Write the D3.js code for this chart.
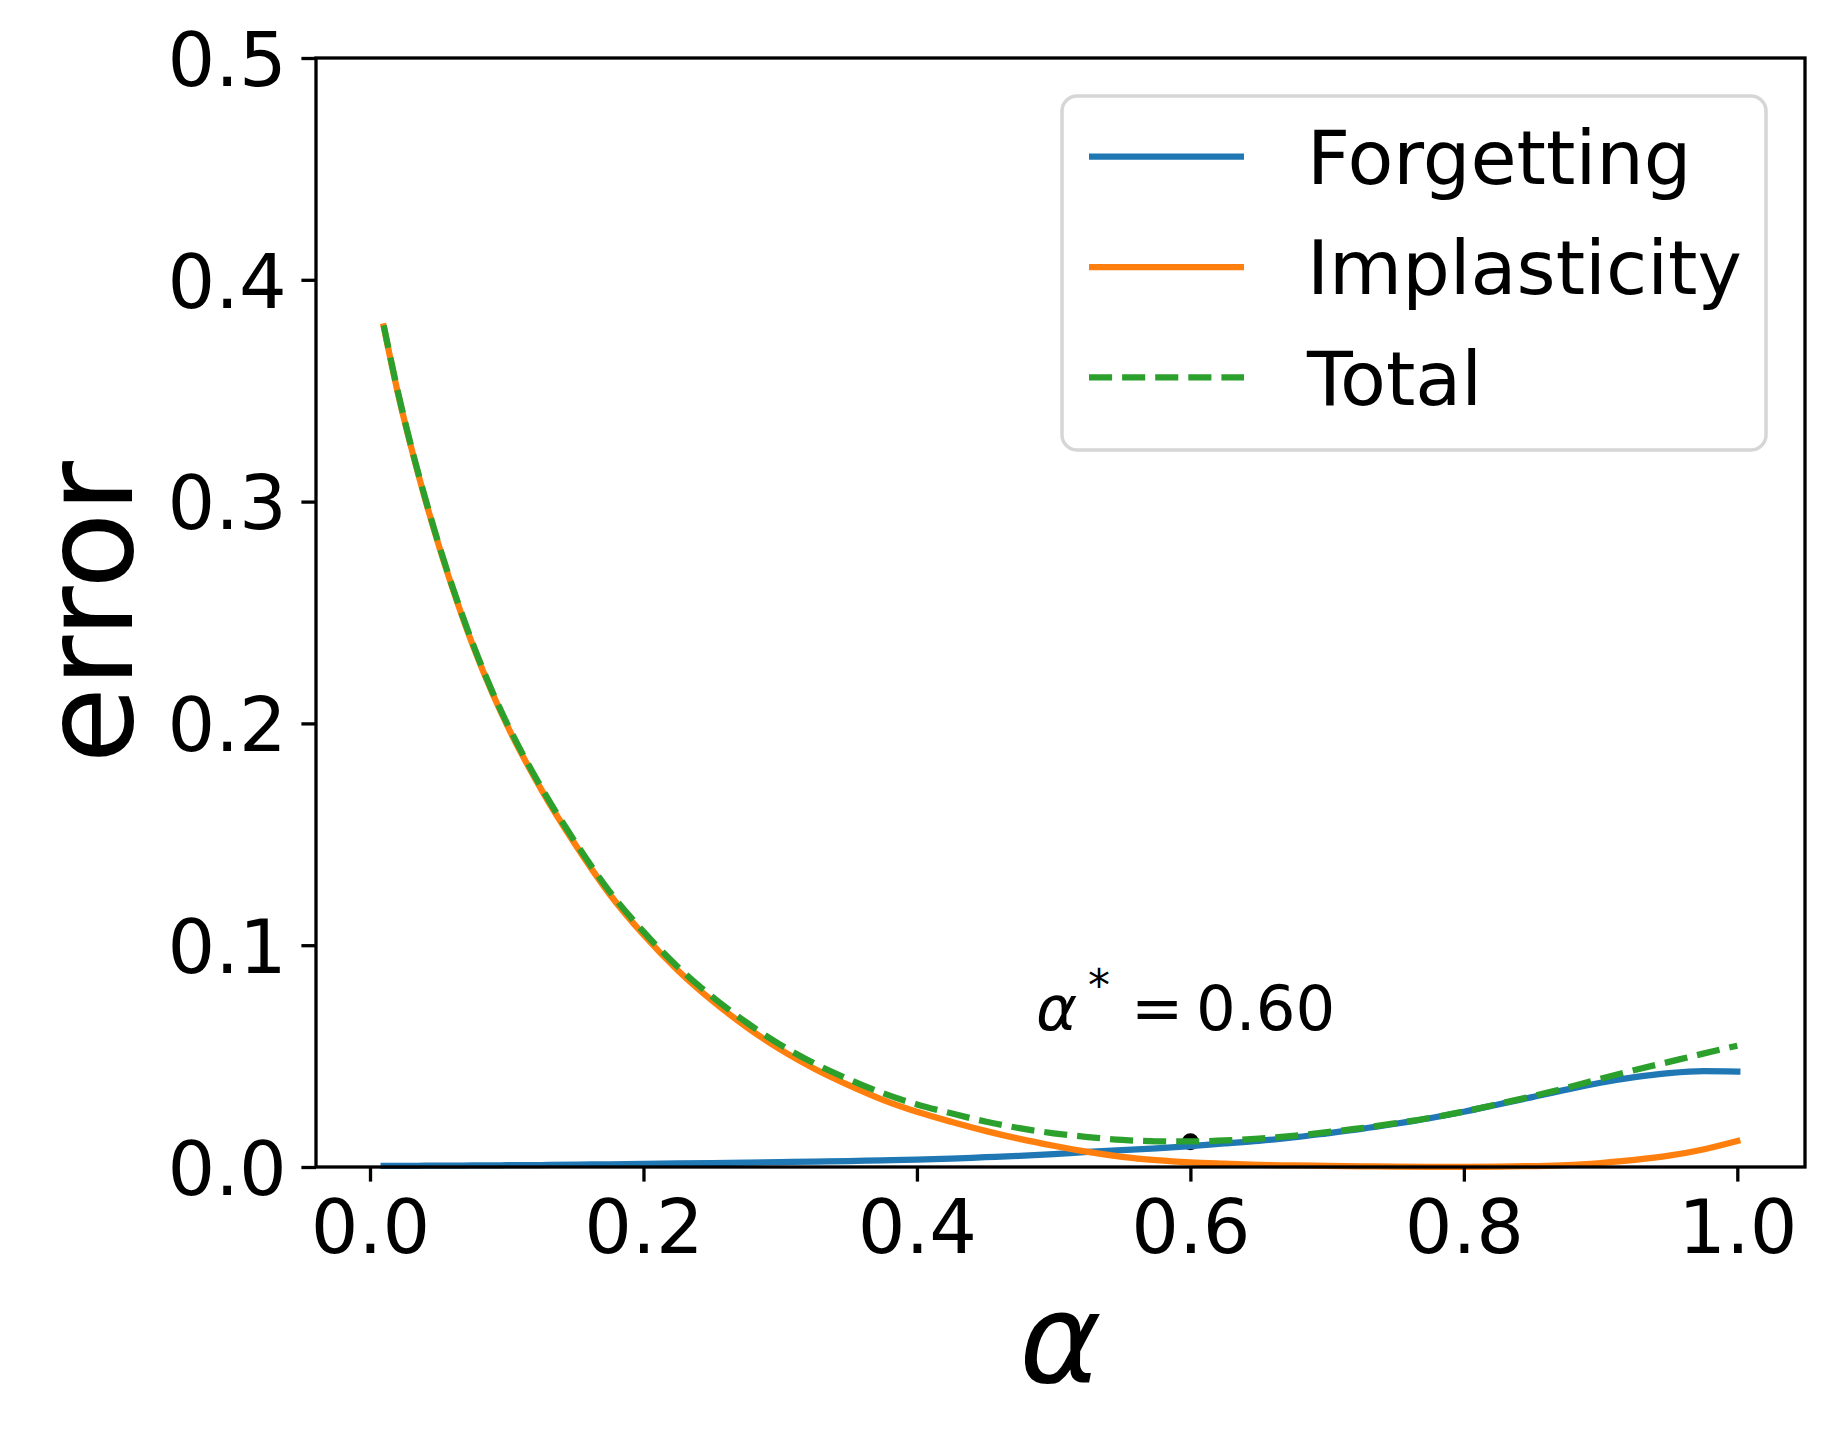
<!DOCTYPE html>
<html>
<head>
<meta charset="utf-8">
<script src="https://cdn.jsdelivr.net/npm/d3@7"></script>
<style>
  html, body { margin: 0; padding: 0; background: #ffffff; }
  svg { display: block; }
  text { font-family: "DejaVu Sans", sans-serif; fill: #000; }
</style>
</head>
<body>
<script>
// ---- data ----
const alpha = [0.01, 0.02, 0.03, 0.04, 0.05, 0.06, 0.075, 0.09, 0.1, 0.125, 0.15, 0.175, 0.2, 0.225, 0.25, 0.275,
  0.3, 0.325, 0.35, 0.375, 0.4, 0.425, 0.45, 0.475, 0.5, 0.525, 0.55, 0.575, 0.6, 0.625, 0.65, 0.675, 0.7, 0.725,
  0.75, 0.775, 0.8, 0.825, 0.85, 0.875, 0.9, 0.925, 0.95, 0.975, 1.0];

const forgetting = [0.0005, 0.0005, 0.0005, 0.0006, 0.0006, 0.0006, 0.0007, 0.0007, 0.0008, 0.0009, 0.0011, 0.0012, 0.0014, 0.0016, 0.0018, 0.0020,
  0.0022, 0.0024, 0.0027, 0.0030, 0.0033, 0.0038, 0.0044, 0.0050, 0.0058, 0.0068, 0.0076, 0.0084, 0.0094, 0.0106, 0.0118, 0.0133, 0.0152, 0.0172,
  0.0195, 0.0220, 0.0249, 0.0282, 0.0315, 0.0349, 0.0380, 0.0405, 0.0423, 0.0432, 0.0430];

const implasticity = [0.379, 0.350, 0.3247, 0.3018, 0.2808, 0.2616, 0.2355, 0.2129, 0.1995, 0.1705, 0.1455, 0.1232, 0.1047, 0.0887, 0.0751, 0.0633,
  0.0530, 0.0443, 0.0369, 0.0303, 0.0249, 0.0204, 0.0163, 0.0127, 0.0096, 0.0068, 0.0046, 0.0031, 0.0021, 0.0015, 0.0010, 0.0007, 0.0005, 0.0003,
  0.0002, 0.0001, 0.0001, 0.0002, 0.0004, 0.0008, 0.0018, 0.0032, 0.0051, 0.0079, 0.0117];

const total = [0.3795, 0.3505, 0.3252, 0.3024, 0.2814, 0.2622, 0.2362, 0.2136, 0.2003, 0.1714, 0.1466, 0.1244, 0.1061, 0.0903, 0.0769, 0.0653,
  0.0552, 0.0467, 0.0396, 0.0333, 0.0282, 0.0242, 0.0205, 0.0175, 0.0152, 0.0135, 0.0122, 0.0116, 0.0115, 0.0120, 0.0128, 0.0140, 0.0157, 0.0175,
  0.0197, 0.0221, 0.0250, 0.0284, 0.0319, 0.0357, 0.0398, 0.0437, 0.0474, 0.0511, 0.0547];

const optimumAlpha = [0.60];
const optimumError = [0.0114];

const xTicks = [0.0, 0.2, 0.4, 0.6, 0.8, 1.0];
const xTickLabels = ["0.0", "0.2", "0.4", "0.6", "0.8", "1.0"];
const yTicks = [0.0, 0.1, 0.2, 0.3, 0.4, 0.5];
const yTickLabels = ["0.0", "0.1", "0.2", "0.3", "0.4", "0.5"];

const seriesNames = ["Forgetting", "Implasticity", "Total"];
const seriesColors = ["#1f77b4", "#ff7f0e", "#2ca02c"];

// ---- layout ----
const W = 1834, H = 1437;
const plot = { left: 316, right: 1805, top: 58, bottom: 1167 };
const LW = 6.25, SPINE = 3.3, TICK = 14.6;
const FS = 75;

const svg = d3.select("body").append("svg").attr("width", W).attr("height", H);
svg.append("rect").attr("width", W).attr("height", H).attr("fill", "#fff");

const x = d3.scaleLinear().domain([-0.0395, 1.0495]).range([plot.left, plot.right]);
const y = d3.scaleLinear().domain([0, 0.5]).range([plot.bottom, plot.top]);

// optimum dot (under lines)
svg.append("g").selectAll("circle")
  .data(optimumAlpha.map((a, i) => [a, optimumError[i]]))
  .join("circle")
  .attr("cx", d => x(d[0])).attr("cy", d => y(d[1])).attr("r", 8.5).attr("fill", "#000");

const line = d3.line().x((d, i) => x(alpha[i])).y(d => y(d)).curve(d3.curveMonotoneX);

const series = [forgetting, implasticity, total];
series.forEach((vals, k) => {
  svg.append("path")
    .attr("d", line(vals))
    .attr("fill", "none")
    .attr("stroke", seriesColors[k])
    .attr("stroke-width", LW)
    .attr("stroke-linejoin", "round")
    .attr("stroke-linecap", k === 2 ? "butt" : "square")
    .attr("stroke-dasharray", k === 2 ? "23.1,10" : null);
});

// annotation  α* = 0.60
const ann = svg.append("text").attr("x", 1036).attr("y", 1030).style("font-size", "62.5px");
ann.append("tspan").attr("font-style", "italic").text("α");
ann.append("tspan").attr("x", 1088).attr("dy", -29).style("font-size", "44px").text("*");
ann.append("tspan").attr("x", 1131).attr("dy", 29).text("=");
ann.append("tspan").attr("x", 1196).text("0.60");

// axes
const xAxis = d3.axisBottom(x).tickValues(xTicks).tickFormat((d, i) => xTickLabels[i]).tickSize(TICK).tickPadding(0);
const gx = svg.append("g").attr("transform", `translate(0,${plot.bottom})`).call(xAxis);
gx.select(".domain").remove();
gx.selectAll(".tick line").attr("stroke", "#000").attr("stroke-width", SPINE);
gx.selectAll(".tick text").attr("y", 86).attr("dy", 0).style("font-size", FS + "px")
  .style("font-family", "'DejaVu Sans', sans-serif").attr("fill", "#000");

const yAxis = d3.axisLeft(y).tickValues(yTicks).tickFormat((d, i) => yTickLabels[i]).tickSize(TICK).tickPadding(0);
const gy = svg.append("g").attr("transform", `translate(${plot.left},0)`).call(yAxis);
gy.select(".domain").remove();
gy.selectAll(".tick line").attr("stroke", "#000").attr("stroke-width", SPINE);
gy.selectAll(".tick text").attr("x", -(TICK + 14.6)).attr("dy", "0.364em").style("font-size", FS + "px")
  .style("font-family", "'DejaVu Sans', sans-serif").attr("fill", "#000");

// spines
svg.append("rect")
  .attr("x", plot.left).attr("y", plot.top)
  .attr("width", plot.right - plot.left).attr("height", plot.bottom - plot.top)
  .attr("fill", "none").attr("stroke", "#000").attr("stroke-width", SPINE).attr("stroke-linecap", "square");

// axis labels
svg.append("text")
  .attr("transform", `translate(132,${(plot.top + plot.bottom) / 2}) rotate(-90)`)
  .attr("text-anchor", "middle").style("font-size", "125px").text("error");
svg.append("text")
  .attr("x", (plot.left + plot.right) / 2).attr("y", 1382)
  .attr("text-anchor", "middle").style("font-size", "125px").attr("font-style", "italic").text("α");

// legend
const leg = svg.append("g");
leg.append("rect")
  .attr("x", 1062).attr("y", 96).attr("width", 704).attr("height", 354)
  .attr("rx", 15).attr("ry", 15)
  .attr("fill", "#fff").attr("fill-opacity", 0.8)
  .attr("stroke", "#d6d6d6").attr("stroke-width", 3.5);
const rowY = d3.scalePoint().domain(seriesNames).range([156.7, 377.3]);
seriesNames.forEach((name, k) => {
  const yy = rowY(name);
  leg.append("line")
    .attr("x1", 1089).attr("x2", 1244).attr("y1", yy).attr("y2", yy)
    .attr("stroke", seriesColors[k]).attr("stroke-width", LW)
    .attr("stroke-dasharray", k === 2 ? "23.1,10" : null);
  leg.append("text").attr("x", 1307).attr("y", yy + 27.3).style("font-size", FS + "px").text(name);
});
</script>
</body>
</html>
